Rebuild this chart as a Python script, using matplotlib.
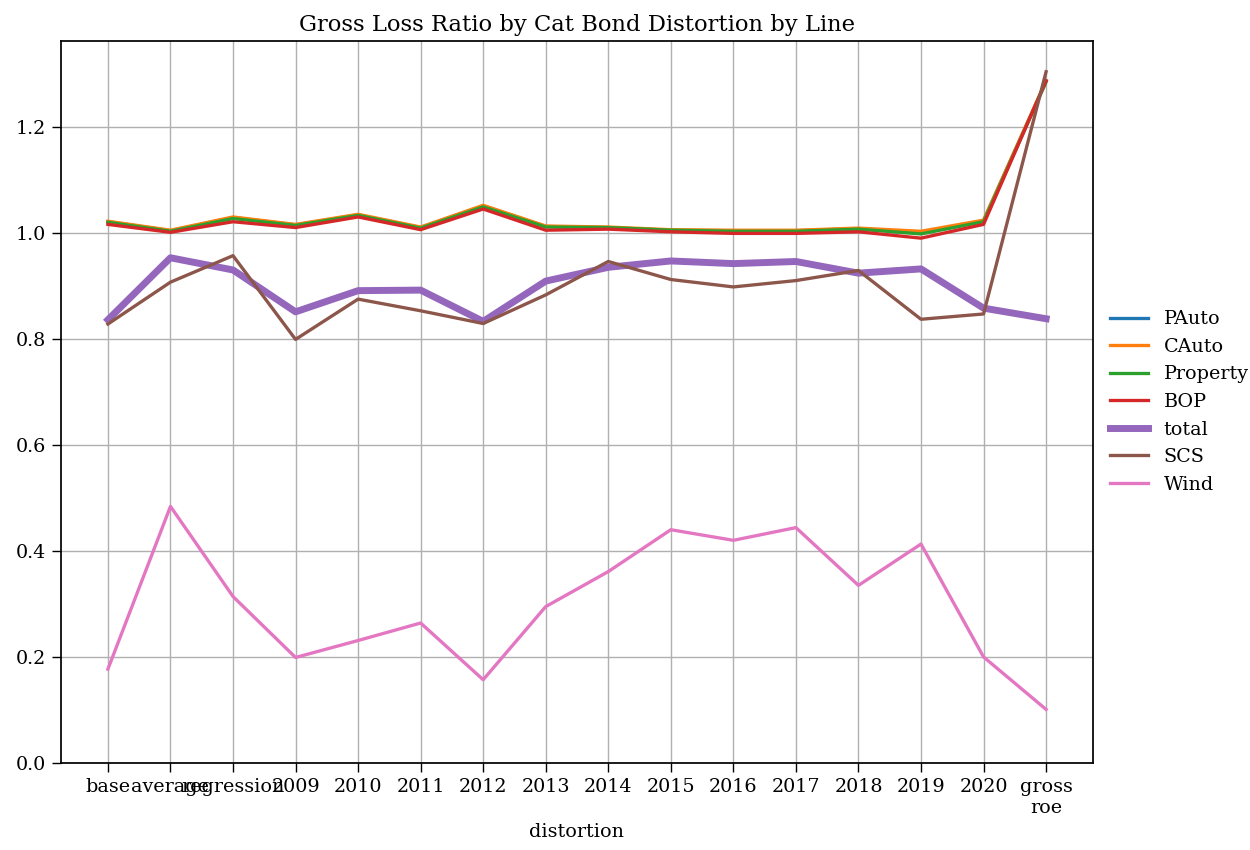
import matplotlib
matplotlib.use("Agg")
import matplotlib.pyplot as plt
import pandas as pd

# distortion scenarios along the x axis
distortions = ["base", "average", "regression", "2009", "2010", "2011", "2012",
               "2013", "2014", "2015", "2016", "2017", "2018", "2019", "2020",
               "gross\nroe"]

# gross loss ratio by line
pauto = [1.021, 1.004, 1.029, 1.015, 1.034, 1.010, 1.051, 1.012, 1.010, 1.005,
         1.004, 1.004, 1.008, 1.001, 1.023, 1.286]
cauto = [1.022, 1.005, 1.030, 1.016, 1.035, 1.011, 1.052, 1.013, 1.011, 1.006,
         1.005, 1.005, 1.009, 1.003, 1.024, 1.287]
prop = [1.020, 1.003, 1.027, 1.014, 1.033, 1.009, 1.049, 1.011, 1.010, 1.005,
        1.003, 1.003, 1.007, 0.998, 1.021, 1.285]
bop = [1.016, 1.001, 1.021, 1.010, 1.030, 1.006, 1.045, 1.005, 1.007, 1.002,
       0.999, 0.999, 1.002, 0.990, 1.016, 1.287]
total = [0.836, 0.953, 0.930, 0.851, 0.891, 0.892, 0.833, 0.909, 0.935, 0.947,
         0.942, 0.946, 0.924, 0.932, 0.858, 0.838]
scs = [0.828, 0.907, 0.957, 0.799, 0.875, 0.853, 0.829, 0.883, 0.946, 0.912,
       0.898, 0.910, 0.929, 0.837, 0.847, 1.304]
wind = [0.177, 0.484, 0.314, 0.199, 0.231, 0.264, 0.157, 0.295, 0.361, 0.440,
        0.420, 0.444, 0.335, 0.413, 0.200, 0.101]

df = pd.DataFrame({"PAuto": pauto, "CAuto": cauto, "Property": prop,
                   "BOP": bop, "total": total, "SCS": scs, "Wind": wind},
                  index=distortions)

plt.rcParams["font.family"] = "DejaVu Serif"
plt.rcParams["font.size"] = 11

fig = plt.figure(figsize=(10, 6.8), dpi=125)
ax = fig.add_axes([0.0488, 0.1024, 0.8256, 0.8494])

x = range(len(df))
for i, col in enumerate(df.columns):
    lw = 4 if col == "total" else 1.9
    ax.plot(x, df[col], color=f"C{i}", lw=lw, label=col)

ax.set_xticks(list(x))
ax.set_xticklabels(df.index)
ax.set_xlim(-0.75, len(df) - 0.25)
ax.set_ylim(0, 1.362)
ax.grid(True, color="#b0b0b0", lw=0.8)
ax.tick_params(length=5, width=0.8)
for s in ax.spines.values():
    s.set_linewidth(1.0)

ax.set_title("Gross Loss Ratio by Cat Bond Distortion by Line", fontsize=13)
ax.set_xlabel("distortion")
ax.legend(loc="center left", bbox_to_anchor=(1.0, 0.5), frameon=False)

fig.savefig("out.png", dpi=125)
